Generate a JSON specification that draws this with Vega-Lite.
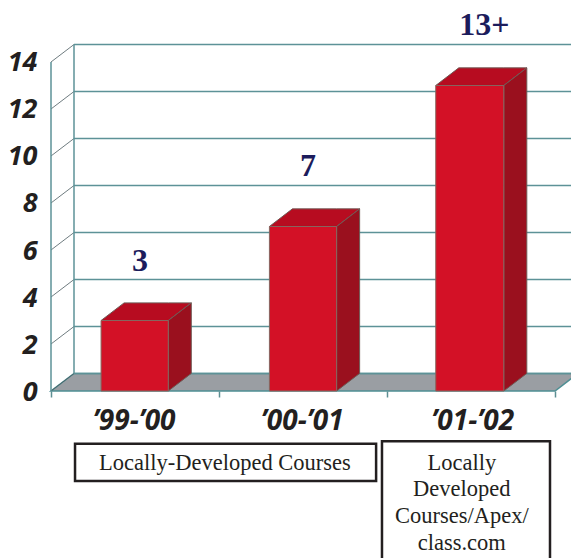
{
  "$schema": "https://vega.github.io/schema/vega-lite/v6.json",
  "width": 520,
  "height": 558,
  "padding": {"left": 51, "top": 0, "right": 0, "bottom": 0},
  "autosize": {"type": "none"},
  "background": "white",
  "view": {"stroke": null},
  "datasets": {
    "bars": [
      {"period": "’99-’00", "courses": 3, "shown": "3", "start": 0.298, "end": 0.698, "mid": 0.495, "labelAt": 0.53},
      {"period": "’00-’01", "courses": 7, "shown": "7", "start": 1.3, "end": 1.7, "mid": 1.495, "labelAt": 1.53},
      {"period": "’01-’02", "courses": 13, "shown": "13+", "start": 2.29, "end": 2.695, "mid": 2.51, "labelAt": 2.58}
    ],
    "faces": [
      {"period": "’99-’00", "face": "top", "at": 0.298, "low": 3, "high": 3},
      {"period": "’99-’00", "face": "top", "at": 0.435, "low": 3, "high": 3.75},
      {"period": "’99-’00", "face": "top", "at": 0.698, "low": 3, "high": 3.75},
      {"period": "’99-’00", "face": "top", "at": 0.835, "low": 3.75, "high": 3.75},
      {"period": "’99-’00", "face": "side", "at": 0.698, "low": 0, "high": 3},
      {"period": "’99-’00", "face": "side", "at": 0.835, "low": 0.75, "high": 3.75},
      {"period": "’00-’01", "face": "top", "at": 1.3, "low": 7, "high": 7},
      {"period": "’00-’01", "face": "top", "at": 1.437, "low": 7, "high": 7.75},
      {"period": "’00-’01", "face": "top", "at": 1.7, "low": 7, "high": 7.75},
      {"period": "’00-’01", "face": "top", "at": 1.837, "low": 7.75, "high": 7.75},
      {"period": "’00-’01", "face": "side", "at": 1.7, "low": 0, "high": 7},
      {"period": "’00-’01", "face": "side", "at": 1.837, "low": 0.75, "high": 7.75},
      {"period": "’01-’02", "face": "top", "at": 2.29, "low": 13, "high": 13},
      {"period": "’01-’02", "face": "top", "at": 2.427, "low": 13, "high": 13.75},
      {"period": "’01-’02", "face": "top", "at": 2.695, "low": 13, "high": 13.75},
      {"period": "’01-’02", "face": "top", "at": 2.832, "low": 13.75, "high": 13.75},
      {"period": "’01-’02", "face": "side", "at": 2.695, "low": 0, "high": 13},
      {"period": "’01-’02", "face": "side", "at": 2.832, "low": 0.75, "high": 13.75}
    ],
    "floor": [
      {"at": 0, "low": 0, "high": 0},
      {"at": 0.137, "low": 0, "high": 0.75},
      {"at": 3, "low": 0, "high": 0.75},
      {"at": 3.137, "low": 0.75, "high": 0.75}
    ],
    "levels": [
      {"level": 0}, {"level": 2}, {"level": 4}, {"level": 6},
      {"level": 8}, {"level": 10}, {"level": 12}, {"level": 14}
    ],
    "frame": [{"from": 0, "to": 14}],
    "notes": [
      {"note": "Locally-Developed Courses", "left": 0.143, "right": 1.935, "upper": -2.24, "lower": -3.83, "textAt": 1.035, "textY": -2.58},
      {"note": "Locally\nDeveloped\nCourses/Apex/\nclass.com", "left": 1.97, "right": 2.97, "upper": -2.14, "lower": -7.6, "textAt": 2.445, "textY": -2.58}
    ]
  },
  "layer": [
    {
      "data": {"name": "floor"},
      "mark": {"type": "area", "fill": "#9a9ea3", "stroke": "#4f8f94", "strokeWidth": 1.5},
      "encoding": {
        "x": {"field": "at", "type": "quantitative", "scale": {"domain": [0, 3.095], "nice": false, "zero": false},
          "axis": {"values": [0, 1, 2, 3], "labels": false, "domain": false, "grid": false, "title": null, "offset": -167, "tickSize": 6, "tickColor": "#5d8f93", "tickWidth": 1.5}},
        "y": {"field": "low", "type": "quantitative", "scale": {"domain": [-7.106, 16.638], "nice": false, "zero": false},
          "axis": {"values": [0, 2, 4, 6, 8, 10, 12, 14], "domain": false, "ticks": false, "grid": false, "title": null, "labelPadding": 14, "labelOffset": 1,
            "labelFont": "Open Sans", "labelFontSize": 27, "labelFontWeight": "bold", "labelFontStyle": "italic", "labelColor": "#231f20"}},
        "y2": {"field": "high"}
      }
    },
    {
      "data": {"name": "levels"},
      "mark": {"type": "rule", "stroke": "#5d9297", "strokeWidth": 1.5, "xOffset": 23, "yOffset": -17.5, "x2Offset": 23},
      "encoding": {
        "x": {"datum": 0, "type": "quantitative", "scale": {"domain": [0, 3.095], "nice": false, "zero": false}},
        "x2": {"datum": 3.095},
        "y": {"field": "level", "type": "quantitative", "scale": {"domain": [-7.106, 16.638], "nice": false, "zero": false}}
      }
    },
    {
      "data": {"name": "levels"},
      "mark": {"type": "rule", "stroke": "#4a5a60", "strokeWidth": 0.8, "x2Offset": 23, "y2Offset": -17.5},
      "encoding": {
        "x": {"datum": 0, "type": "quantitative", "scale": {"domain": [0, 3.095], "nice": false, "zero": false}},
        "x2": {"datum": 0},
        "y": {"field": "level", "type": "quantitative", "scale": {"domain": [-7.106, 16.638], "nice": false, "zero": false}},
        "y2": {"field": "level"}
      }
    },
    {
      "data": {"name": "frame"},
      "mark": {"type": "rule", "stroke": "#5d9297", "strokeWidth": 1.5},
      "encoding": {
        "x": {"datum": 0, "type": "quantitative", "scale": {"domain": [0, 3.095], "nice": false, "zero": false}},
        "y": {"field": "from", "type": "quantitative", "scale": {"domain": [-7.106, 16.638], "nice": false, "zero": false}},
        "y2": {"field": "to"}
      }
    },
    {
      "data": {"name": "frame"},
      "mark": {"type": "rule", "stroke": "#5d9297", "strokeWidth": 1.5, "xOffset": 23, "yOffset": -17.5, "y2Offset": -17.5},
      "encoding": {
        "x": {"datum": 0, "type": "quantitative", "scale": {"domain": [0, 3.095], "nice": false, "zero": false}},
        "y": {"field": "from", "type": "quantitative", "scale": {"domain": [-7.106, 16.638], "nice": false, "zero": false}},
        "y2": {"field": "to"}
      }
    },
    {
      "data": {"name": "faces"},
      "mark": {"type": "area", "stroke": "#6f5a55", "strokeWidth": 1},
      "encoding": {
        "x": {"field": "at", "type": "quantitative", "scale": {"domain": [0, 3.095], "nice": false, "zero": false}},
        "y": {"field": "low", "type": "quantitative", "scale": {"domain": [-7.106, 16.638], "nice": false, "zero": false}},
        "y2": {"field": "high"},
        "color": {"field": "face", "type": "nominal", "legend": null, "scale": {"domain": ["top", "side"], "range": ["#b70c20", "#9a101e"]}},
        "detail": {"field": "period"}
      }
    },
    {
      "data": {"name": "bars"},
      "mark": {"type": "rect", "fill": "#d31126", "stroke": "#87665f", "strokeWidth": 1},
      "encoding": {
        "x": {"field": "start", "type": "quantitative", "scale": {"domain": [0, 3.095], "nice": false, "zero": false}},
        "x2": {"field": "end"},
        "y": {"field": "courses", "type": "quantitative", "scale": {"domain": [-7.106, 16.638], "nice": false, "zero": false}},
        "y2": {"datum": 0}
      }
    },
    {
      "data": {"name": "bars"},
      "mark": {"type": "text", "font": "Liberation Serif", "fontWeight": "bold", "fontSize": 32, "fill": "#1c1c5c", "baseline": "middle", "align": "center", "yOffset": -60},
      "encoding": {
        "x": {"field": "labelAt", "type": "quantitative", "scale": {"domain": [0, 3.095], "nice": false, "zero": false}},
        "y": {"field": "courses", "type": "quantitative", "scale": {"domain": [-7.106, 16.638], "nice": false, "zero": false}},
        "text": {"field": "shown"}
      }
    },
    {
      "data": {"name": "bars"},
      "mark": {"type": "text", "font": "Open Sans", "fontWeight": "bold", "fontStyle": "italic", "fontSize": 28, "fill": "#231f20", "baseline": "middle", "align": "center", "yOffset": 31},
      "encoding": {
        "x": {"field": "mid", "type": "quantitative", "scale": {"domain": [0, 3.095], "nice": false, "zero": false}},
        "y": {"datum": 0, "type": "quantitative", "scale": {"domain": [-7.106, 16.638], "nice": false, "zero": false}},
        "text": {"field": "period"}
      }
    },
    {
      "data": {"name": "notes"},
      "mark": {"type": "rect", "fill": "white", "stroke": "#231f20", "strokeWidth": 2.5},
      "encoding": {
        "x": {"field": "left", "type": "quantitative", "scale": {"domain": [0, 3.095], "nice": false, "zero": false}},
        "x2": {"field": "right"},
        "y": {"field": "upper", "type": "quantitative", "scale": {"domain": [-7.106, 16.638], "nice": false, "zero": false}},
        "y2": {"field": "lower"}
      }
    },
    {
      "data": {"name": "notes"},
      "mark": {"type": "text", "font": "Liberation Serif", "fontSize": 22.5, "fill": "#231f20", "align": "center", "baseline": "top", "lineBreak": "\n", "lineHeight": 26.7},
      "encoding": {
        "x": {"field": "textAt", "type": "quantitative", "scale": {"domain": [0, 3.095], "nice": false, "zero": false}},
        "y": {"field": "textY", "type": "quantitative", "scale": {"domain": [-7.106, 16.638], "nice": false, "zero": false}},
        "text": {"field": "note"}
      }
    }
  ]
}
